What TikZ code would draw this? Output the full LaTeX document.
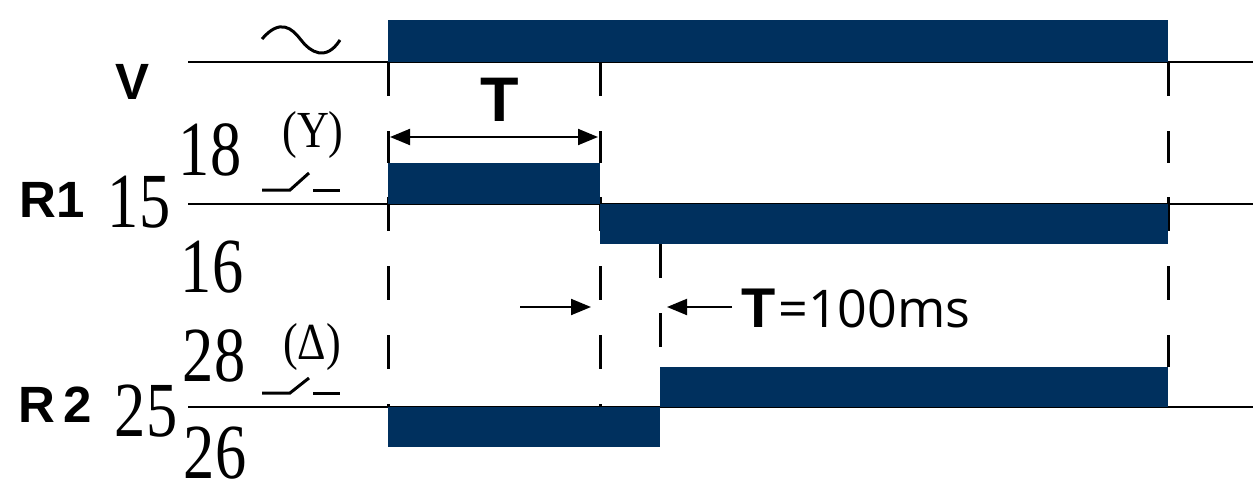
\documentclass[tikz,border=0pt]{standalone}
\usepackage{fontspec}
\setmainfont{Liberation Serif}
\setsansfont{Liberation Sans}
\newfontfamily\lightsans{Open Sans}
\usetikzlibrary{arrows.meta}
\definecolor{barblue}{RGB}{0,48,94}
\newcommand{\narrow}[1]{\scalebox{0.8}[1]{#1}}
\begin{document}
\begin{tikzpicture}[x=1pt,y=-1pt,
  sig/.style={line width=2pt,black},
  bar/.style={fill=barblue},
  gridline/.style={line width=3pt,dash pattern=on 34pt off 35pt},
  num/.style={inner sep=0pt,font=\fontsize{78}{80}\selectfont},
  paren/.style={inner sep=0pt,font=\fontsize{52}{54}\selectfont},
  lab/.style={inner sep=0pt,font=\sffamily\bfseries\fontsize{51}{52}\selectfont},
  sw/.style={line width=3pt},
  tip/.style={-{Triangle[length=20pt,width=16pt]}, line width=2pt},
  dtip/.style={{Triangle[length=20pt,width=16pt]}-{Triangle[length=20pt,width=16pt]}, line width=2pt}
]
\useasboundingbox (0,0) rectangle (1253,485);

% signal baselines
\draw[sig] (188,62) -- (1253,62);
\draw[sig] (188,204) -- (1253,204);
\draw[sig] (188,407) -- (1253,407);

% dashed time markers
\draw[gridline] (388,62) -- (388,163);
\draw[gridline] (388,197) -- (388,407);
\draw[gridline] (600,62) -- (600,163);
\draw[gridline] (600,197) -- (600,407);
\draw[gridline] (660,244) -- (660,367);
\draw[gridline] (1168,62) -- (1168,163);
\draw[gridline] (1168,197) -- (1168,367);

% bars
\fill[bar] (388,20) rectangle (1168,62);
\fill[bar] (388,163) rectangle (600,204);
\fill[bar] (600,204) rectangle (1168,244);
\fill[bar] (388,407) rectangle (660,447);
\fill[bar] (660,367) rectangle (1168,407);

% labels
\node[lab] (V) at (133,82) {V};
\node[lab] (R1) at (52,200) {R1};
\node[lab] (R2) at (55,405) {R\,2};
\node[num] (n15) at (139,202) {\narrow{15}};
\node[num] (n18) at (210,150) {\narrow{18}};
\node[num] (n16) at (212,267) {\narrow{16}};
\node[num] (n25) at (146,411) {\narrow{25}};
\node[num] (n28) at (214,356) {\narrow{28}};
\node[num] (n26) at (215,453) {\narrow{26}};
\node[paren] (Y) at (313,135) {\scalebox{0.85}[1]{(Y)}};
\node[paren] (D) at (312,347) {\scalebox{0.85}[1]{(Δ)}};

% tilde
\draw[line width=3pt] (262,39) .. controls (280,18) and (292,28) .. (301,40)
  .. controls (310,52) and (326,62) .. (340,40);

% switch symbols
\draw[sw] (262,190) -- (290,190) -- (309,173);
\draw[sw] (313,190) -- (340,190);
\draw[sw] (262,393) -- (290,393) -- (309,378);
\draw[sw] (313,393) -- (340,393);

% T span
\node[inner sep=0pt,font=\sffamily\bfseries\fontsize{63}{64}\selectfont] (T) at (500,100) {T};
\coordinate (ta) at (390,137);
\coordinate (tb) at (598,137);
\draw[dtip] (ta) -- (tb);

% T = 100ms
\coordinate (aL1) at (520,307);
\coordinate (aL2) at (591,307);
\coordinate (aR1) at (732,307);
\coordinate (aR2) at (667,307);
\draw[tip] (aL1) -- (aL2);
\draw[tip] (aR1) -- (aR2);
\node[inner sep=0pt,anchor=base west] (Tms) at (741,327)
  {{\sffamily\bfseries\fontsize{56}{58}\selectfont T}{\lightsans\fontsize{52}{54}\selectfont\hspace{3pt}=100ms}};
\end{tikzpicture}
\end{document}
